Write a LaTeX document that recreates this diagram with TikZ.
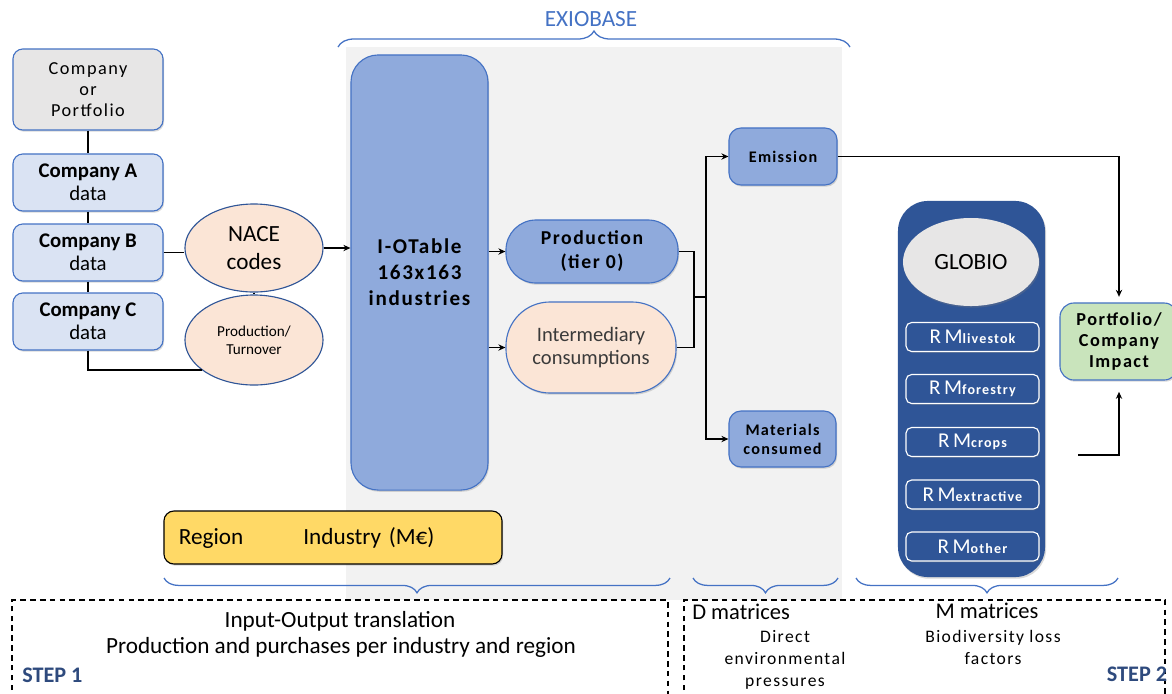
\documentclass[tikz,border=0pt]{standalone}
\usepackage{fontspec}
\setmainfont{Carlito}
\newfontfamily\spcfont[LetterSpace=8]{Carlito}
\usepackage{tikz}
\usetikzlibrary{arrows.meta, positioning, shapes.geometric, shadows, decorations.pathreplacing, calc}

\definecolor{bordblue}{HTML}{4472C4}
\definecolor{midblue}{HTML}{8FAADC}
\definecolor{lightblue}{HTML}{DAE3F3}
\definecolor{peach}{HTML}{FBE5D6}
\definecolor{boxgray}{HTML}{E7E6E6}
\definecolor{bggray}{HTML}{F2F2F2}
\definecolor{navy}{HTML}{2F5597}
\definecolor{gold}{HTML}{FFD966}
\definecolor{mint}{HTML}{C9E4BC}
\definecolor{stepblue}{HTML}{2E4A7D}
\definecolor{darktext}{HTML}{3A3A3A}

\newcommand{\fsz}[2]{\fontsize{#1}{#2}\selectfont}
\newcommand{\rmlabel}[1]{{\fsz{15}{15}R\,M}{\spcfont\bfseries\fsz{10}{11}#1}}

\begin{document}
\begin{tikzpicture}[x=0.025cm, y=-0.025cm, >={Stealth[length=5pt,width=4.5pt]},
    softshadow/.style={drop shadow={opacity=0.3,shadow xshift=0.8pt,shadow yshift=-1.2pt}},
    conn/.style={draw, line width=1pt},
    compbox/.style={draw=bordblue, fill=lightblue, line width=0.8pt, rounded corners=7pt,
        minimum width=3.75cm, minimum height=1.425cm, align=center, font=\fsz{14.8}{16.5}, softshadow},
    codes/.style={ellipse, draw=navy, fill=peach, line width=0.8pt, minimum width=3.45cm,
        align=center, inner sep=0pt},
    flowbox/.style={draw=bordblue, fill=midblue, line width=0.8pt, align=center, softshadow},
    rmbox/.style={draw=white, fill=navy, line width=0.8pt, rounded corners=4pt, minimum width=3.325cm,
        minimum height=0.725cm, text=white, inner sep=0pt,
        drop shadow={opacity=0.35,shadow xshift=0.6pt,shadow yshift=-0.9pt}},
    grpbrace/.style={decorate, decoration={brace, amplitude=#1}, draw=bordblue, line width=0.9pt},
    dashframe/.style={draw, line width=1pt, dash pattern=on 4pt off 3pt},
    steplabel/.style={font=\bfseries\fsz{15.8}{18}, text=stepblue, inner sep=0pt}]

  \useasboundingbox (0,0) rectangle (1172,693);
  \fill[bggray] (346,47) rectangle (842,600);

  % braces
  \draw[grpbrace=0.4cm] (338,47) -- (850,47);
  \draw[grpbrace=0.37cm] (670,578) -- (164,578);
  \draw[grpbrace=0.37cm] (838,578) -- (693,578);
  \draw[grpbrace=0.37cm] (1118,578) -- (856,578);
  \node[font=\fsz{16.5}{18}, text=bordblue] (exio) at (591,19) {EXIOBASE};

  % companies
  \node[compbox, fill=boxgray, minimum height=2.025cm, font=\spcfont\fsz{13}{15}] (portf) at (88,89.5) {Company\\or\\Portfolio};
  \node[compbox] (compA) at (88,182.5) {\textbf{Company A}\\data};
  \node[compbox] (compB) at (88,252.5) {\textbf{Company B}\\data};
  \node[compbox] (compC) at (88,321.5) {\textbf{Company C}\\data};

  \node[codes, minimum height=2.2cm, font=\fsz{16.5}{19.8}] (nace) at (254,248) {NACE\\codes};
  \node[codes, minimum height=2.25cm, font=\fsz{10.8}{13}] (turn) at (254,340) {Production/\\Turnover};

  % exiobase
  \node[flowbox, rounded corners=0.68cm, minimum width=3.425cm, minimum height=10.875cm,
      font=\spcfont\bfseries\fsz{15}{18.4}] (iot) at (419.5,272.5) {I-OTable\\163x163\\industries};
  \node[flowbox, rounded corners=0.75cm, minimum width=4.3cm, minimum height=1.575cm,
      font=\spcfont\bfseries\fsz{14}{17}] (prod) at (592,251.5) {Production\\(tier 0)};
  \node[flowbox, fill=peach, rounded corners=1.1cm, minimum width=4.25cm, minimum height=2.275cm,
      font=\fsz{14.6}{17}, text=darktext] (inter) at (591,347.5) {Intermediary\\consumptions};
  \node[flowbox, rounded corners=0.3cm, minimum width=2.7cm, minimum height=1.425cm,
      font=\spcfont\bfseries\fsz{11.5}{13.5}] (emis) at (783,156.5) {Emission};
  \node[flowbox, rounded corners=0.3cm, minimum width=2.675cm, minimum height=1.4cm,
      font=\spcfont\bfseries\fsz{11.5}{13.5}] (mat) at (782.5,439) {Materials\\consumed};

  \node[draw=black, fill=gold, line width=0.8pt, rounded corners=0.25cm, minimum height=1.325cm,
      inner xsep=0.375cm, text width=7.7cm, align=left, font=\fsz{16.5}{18}, softshadow]
      (region) at (333,537.5) {Region\hspace{1.5cm}Industry (M€)};

  % globio
  \node[fill=navy, rounded corners=0.75cm, minimum width=3.675cm, minimum height=9.4cm, softshadow] (gpanel) at (971.5,389) {};
  \node[ellipse, fill=boxgray, minimum width=3.4cm, minimum height=2.2cm, font=\fsz{16.5}{19}, softshadow] (globio) at (971,262) {GLOBIO};
  \foreach \yy/\sub [count=\i] in {337/livestok, 389/forestry, 442/crops, 494.5/extractive, 546.5/other}
    \node[rmbox] (rm\i) at (972.5,\yy) {\rmlabel{\sub}};

  \node[flowbox, fill=mint, rounded corners=0.35cm, minimum width=2.95cm, minimum height=1.925cm,
      font=\spcfont\bfseries\fsz{13}{15}] (impact) at (1119,341.5) {Portfolio/\\Company\\Impact};

  % connectors
  \draw[conn] (portf) -- (compA);
  \draw[conn] (compA) -- (compB);
  \draw[conn] (compB) -- (compC);
  \draw[conn] (compB.east) -- (compB.east -| nace.west);
  \draw[conn] (nace) -- (turn);
  \draw[conn] (compC.south) |- (turn.210);
  \draw[conn,->] (nace.east) -- (nace.east -| iot.west);
  \draw[conn,->] (prod.west -| iot.east) -- (prod.west);
  \draw[conn,->] (inter.west -| iot.east) -- (inter.west);
  \coordinate (jn) at (694,297);
  \coordinate (split) at (706,297);
  \draw[conn] (prod.east) -| (jn) -- (split);
  \draw[conn] (inter.east) -| (jn);
  \draw[conn,->] (split) |- (emis.west);
  \draw[conn,->] (split) |- (mat.west);
  \draw[conn,->,shorten >=4pt] (emis.east) -| (impact.north);
  \coordinate (gout) at (1078,455);
  \draw[conn,->,shorten >=8pt] (gout) -| (impact.south);

  % steps
  \draw[dashframe] (12,700) -- (12,600) -- (668,600) -- (668,700);
  \draw[dashframe] (684,700) -- (684,600) -- (1165,600) -- (1165,700);
  \node[font=\fsz{16.5}{18}] (io1) at (340,621) {Input-Output translation};
  \node[font=\fsz{16.5}{18}] (io2) at (341,647) {Production and purchases per industry and region};
  \node[steplabel, anchor=west] (step1) at (22,675) {STEP 1};
  \node[font=\fsz{16}{18}, anchor=west, inner sep=0pt] (dmat) at (692,612) {D matrices};
  \node[font=\spcfont\fsz{12.5}{15.6}, align=center] (dtxt) at (785,660) {Direct\\environmental\\pressures};
  \node[font=\fsz{16}{18}] (mmat) at (987,611) {M matrices};
  \node[font=\spcfont\fsz{12.5}{15.6}, align=center] (mtxt) at (993,647) {Biodiversity loss\\factors};
  \node[steplabel] (step2) at (1137,674) {STEP 2};
\end{tikzpicture}
\end{document}
